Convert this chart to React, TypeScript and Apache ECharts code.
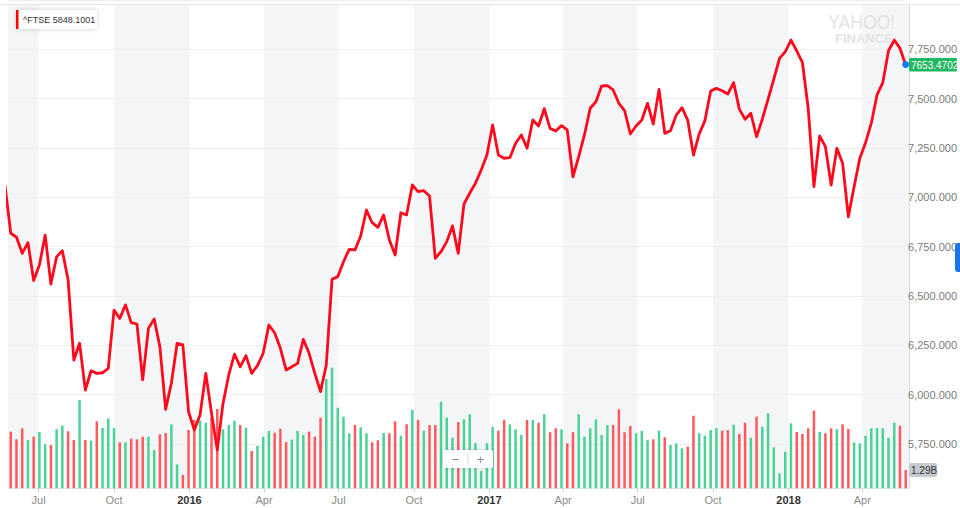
import React, { useEffect, useRef } from "react";
import * as echarts from "echarts";

// Weekly closes of ^FTSE (first point lies just left of the plot and is clipped)
const PRICE = [
  7050, 6809, 6789, 6708, 6762, 6571, 6650, 6800, 6554, 6691,
  6721, 6574, 6172, 6256, 6021, 6118, 6105, 6108, 6130, 6423,
  6381, 6449, 6360, 6353, 6072, 6331, 6378, 6239, 5924, 6055,
  6256, 6248, 5912, 5820, 5896, 6105, 5904, 5720, 5954, 6097,
  6202, 6138, 6194, 6105, 6144, 6206, 6348, 6309, 6231, 6122,
  6138, 6155, 6276, 6206, 6105, 6013, 6147, 6578, 6591, 6666,
  6728, 6725, 6795, 6926, 6862, 6839, 6901, 6775, 6700, 6912,
  6901, 7052, 7018, 7023, 6996, 6683, 6716, 6767, 6846, 6708,
  6956, 7010, 7060, 7127, 7202, 7353, 7202, 7186, 7189, 7261,
  7303, 7236, 7378, 7348, 7435, 7336, 7323, 7350, 7328, 7093,
  7194, 7303, 7437, 7470, 7549, 7551, 7529, 7462, 7425, 7308,
  7348, 7378, 7462, 7358, 7532, 7311, 7324, 7403, 7440, 7378,
  7202, 7308, 7375, 7524, 7537, 7525, 7509, 7566, 7433, 7382,
  7412, 7294, 7382, 7482, 7583, 7688, 7721, 7780, 7726, 7666,
  7437, 7043, 7298, 7244, 7051, 7236, 7161, 6892, 7043, 7186,
  7264, 7362, 7504, 7566, 7726, 7780, 7738, 7653.4702,
];

// Weekly volume in billions, for weeks 1..157
const VOLUME = [
  3.99, 3.45, 4.23, 3.40, 3.64, 3.97, 3.10, 3.05, 4.16, 4.41,
  4.02, 3.40, 6.22, 3.40, 3.36, 4.72, 4.25, 4.91, 4.25, 3.24,
  3.24, 3.50, 3.45, 3.64, 3.64, 2.70, 3.81, 3.90, 4.51, 1.69,
  0.94, 4.11, 4.82, 4.77, 4.62, 5.01, 5.59, 4.16, 4.46, 4.77,
  4.46, 4.27, 2.63, 3.00, 3.64, 4.04, 3.92, 4.20, 3.26, 3.43,
  4.04, 3.76, 3.99, 3.64, 4.98, 7.71, 8.50, 5.68, 5.05, 3.88,
  4.46, 4.30, 3.88, 3.24, 3.38, 3.90, 3.88, 4.72, 3.71, 4.51,
  5.52, 4.82, 4.06, 4.46, 4.46, 6.11, 4.98, 3.57, 4.67, 4.86,
  5.22, 3.20, 1.22, 3.17, 4.34, 4.06, 4.82, 4.51, 4.16, 3.76,
  4.82, 4.82, 4.62, 5.22, 3.95, 4.23, 4.16, 3.17, 3.95, 5.22,
  3.64, 4.23, 4.86, 3.76, 4.46, 4.46, 5.57, 3.95, 4.39, 3.88,
  4.04, 3.40, 3.45, 4.06, 3.60, 3.05, 3.17, 2.82, 2.93, 5.12,
  3.88, 3.71, 4.11, 4.25, 4.06, 4.11, 4.48, 3.83, 4.62, 3.57,
  5.05, 4.34, 5.29, 2.89, 1.06, 2.58, 4.58, 3.97, 3.83, 4.23,
  5.47, 3.97, 3.88, 4.23, 4.16, 4.51, 4.18, 3.24, 3.17, 3.71,
  4.23, 4.25, 4.23, 3.57, 4.62, 4.41, 1.29,
];

const TICK_DATES = [
  Date.UTC(2015, 6, 1), Date.UTC(2015, 9, 1), Date.UTC(2016, 0, 1), Date.UTC(2016, 3, 1),
  Date.UTC(2016, 6, 1), Date.UTC(2016, 9, 1), Date.UTC(2017, 0, 1), Date.UTC(2017, 3, 1),
  Date.UTC(2017, 6, 1), Date.UTC(2017, 9, 1), Date.UTC(2018, 0, 1), Date.UTC(2018, 3, 1),
];
const TICK_LABELS = ["Jul", "Oct", "2016", "Apr", "Jul", "Oct", "2017", "Apr", "Jul", "Oct", "2018", "Apr"];

const START = Date.UTC(2015, 4, 21);
const DAY = 86400000;

const LEGEND_TEXT = "^FTSE 5848.1001";
const LAST_TEXT = "7653.4702";
const LAST_VOL_TEXT = "1.29B";

const RED_LINE = "#ff0a1c";
const GREEN = "#4ad396";
const RED = "#ff5a5f";
const BAND = "#f4f5f6";

export default function App() {
  const ref = useRef<HTMLDivElement>(null);

  useEffect(() => {
    if (!ref.current) return;
    const chart = echarts.init(ref.current, null, { renderer: "svg" });

    const dates = PRICE.map((_, i) => START + i * 7 * DAY);
    const XMIN = START + 3.66 * DAY;
    const XMAX = START + 1103 * DAY;

    const priceData = dates.map((d, i) => [d, PRICE[i]]);
    const volData = VOLUME.map((v, k) => ({
      value: [dates[k + 1], v],
      itemStyle: { color: PRICE[k + 1] >= PRICE[k] ? GREEN : RED },
    }));

    const bandEdges = [XMIN, ...TICK_DATES, XMAX];
    const bands: any[] = [];
    bands.push([{ xAxis: bandEdges[0] }, { xAxis: bandEdges[1] }]);
    for (let i = 2; i + 1 < bandEdges.length; i += 2) {
      bands.push([{ xAxis: bandEdges[i] }, { xAxis: bandEdges[i + 1] }]);
    }

    const font = "'Liberation Sans', Arial, Helvetica, sans-serif";
    const Z = 20;

    const option: any = {
      animation: false,
      textStyle: { fontFamily: font },
      grid: [
        { left: 8, right: 51, top: 4, bottom: 19.7 },
        { left: 8, right: 51, top: -3.75, bottom: 64 },
        { left: 8, right: 51, top: 338.3, bottom: 19.7 },
      ],
      xAxis: [
        {
          gridIndex: 0,
          type: "value",
          min: XMIN,
          max: XMAX,
          axisLine: { show: true, lineStyle: { color: "#e4e4e4", width: 1 } },
          axisTick: { show: true, customValues: TICK_DATES, length: 4, lineStyle: { color: "#d0d0d0" } },
          axisLabel: {
            customValues: TICK_DATES,
            margin: 6,
            fontSize: 11,
            color: "#8a8a8a",
            formatter: (v: number) => {
              const idx = TICK_DATES.indexOf(v);
              const t = idx >= 0 ? TICK_LABELS[idx] : "";
              return /^\d{4}$/.test(t) ? "{y|" + t + "}" : t;
            },
            rich: { y: { fontSize: 11, color: "#333", fontWeight: "bold", fontFamily: font } },
          },
          splitLine: { show: false },
        },
        { gridIndex: 1, type: "value", min: XMIN, max: XMAX, show: false },
        { gridIndex: 2, type: "value", min: XMIN, max: XMAX, show: false },
      ],
      yAxis: [
        {
          gridIndex: 0,
          type: "value",
          position: "right",
          min: 5527.4,
          max: 7961.1,
          axisLine: { show: true, lineStyle: { color: "#dcdcdc" } },
          axisTick: { show: false },
          axisLabel: { show: false },
          splitLine: { show: false },
        },
        {
          gridIndex: 1,
          type: "value",
          position: "right",
          min: 5750,
          max: 8000,
          interval: 250,
          z: 3,
          axisLine: { show: false },
          axisTick: { show: false },
          axisLabel: {
            margin: 4,
            fontSize: 11,
            color: "#7a7a7a",
            showMaxLabel: false,
            formatter: (v: number) =>
              v.toLocaleString("en-US", { minimumFractionDigits: 3, maximumFractionDigits: 3 }),
          },
          splitLine: { show: true, lineStyle: { color: "#eeeeee", width: 1 } },
        },
        { gridIndex: 2, type: "value", min: 0, max: 10.574, show: false },
      ],
      series: [
        {
          type: "line",
          xAxisIndex: 0,
          yAxisIndex: 0,
          data: [],
          silent: true,
          markArea: { silent: true, itemStyle: { color: BAND }, data: bands },
        },
        {
          type: "bar",
          xAxisIndex: 2,
          yAxisIndex: 2,
          data: volData,
          barWidth: 2.5,
          z: 4,
          silent: true,
        },
        {
          type: "line",
          xAxisIndex: 0,
          yAxisIndex: 0,
          data: priceData,
          showSymbol: false,
          symbol: "none",
          clip: true,
          z: 5,
          lineStyle: { color: RED_LINE, width: 2.8, join: "round" },
          silent: true,
        },
      ],
      graphic: [
        {
          type: "line",
          z: Z,
          shape: { x1: 0, y1: 4.5, x2: 960, y2: 4.5 },
          style: { stroke: "#e3e6ea", lineWidth: 1 },
        },
        {
          type: "text",
          z: 2,
          x: 828,
          y: 21,
          scaleX: 0.84,
          style: { text: "YAHOO!", fontSize: 21, fontFamily: font, fill: "#e4e4e4", verticalAlign: "middle" },
        },
        {
          type: "text",
          z: 2,
          x: 835,
          y: 38.5,
          style: { text: "FINANCE", fontSize: 13, fontWeight: "bold", fontFamily: font, fill: "#e4e4e4", verticalAlign: "middle" },
        },
        // legend chip
        {
          type: "rect",
          z: Z,
          shape: { x: 16, y: 10, width: 81, height: 19, r: 2 },
          style: { fill: "#fff", shadowBlur: 4, shadowColor: "rgba(0,0,0,0.18)" },
        },
        { type: "rect", z: Z + 1, shape: { x: 16, y: 10, width: 2.5, height: 19 }, style: { fill: "#ff0000" } },
        {
          type: "text",
          z: Z + 1,
          x: 23,
          y: 19.5,
          style: { text: LEGEND_TEXT, fontSize: 9, fill: "#333", fontFamily: font, verticalAlign: "middle" },
        },
        // last price tag
        { type: "rect", z: Z, shape: { x: 909, y: 58, width: 48, height: 13.5, r: 1 }, style: { fill: "#21b861" } },
        {
          type: "text",
          z: Z + 1,
          x: 911,
          y: 65,
          style: { text: LAST_TEXT, fontSize: 10, fill: "#fff", fontFamily: font, verticalAlign: "middle" },
        },
        { type: "circle", z: Z + 2, shape: { cx: 905.7, cy: 64.5, r: 3.5 }, style: { fill: "#1878f0" } },
        // last volume tag
        { type: "rect", z: Z, shape: { x: 909, y: 463, width: 28, height: 14, r: 2 }, style: { fill: "#c6cad0" } },
        {
          type: "text",
          z: Z + 1,
          x: 911,
          y: 470,
          style: { text: LAST_VOL_TEXT, fontSize: 10, fill: "#333", fontFamily: font, verticalAlign: "middle" },
        },
        {
          type: "rect",
          z: Z,
          shape: { x: 955, y: 243, width: 10, height: 29, r: 3 },
          style: { fill: "#1a74e8" },
        },
        // zoom control
        {
          type: "rect",
          z: Z,
          shape: { x: 443, y: 450, width: 50, height: 18, r: 2 },
          style: { fill: "#fff", shadowBlur: 4, shadowColor: "rgba(0,0,0,0.15)" },
        },
        { type: "line", z: Z + 1, shape: { x1: 468, y1: 453, x2: 468, y2: 465 }, style: { stroke: "#dddddd", lineWidth: 1 } },
        {
          type: "text",
          z: Z + 1,
          x: 455.5,
          y: 459,
          style: { text: "−", fontSize: 13, fill: "#8a8a8a", align: "center", verticalAlign: "middle", fontFamily: font },
        },
        {
          type: "text",
          z: Z + 1,
          x: 480.5,
          y: 459,
          style: { text: "+", fontSize: 13, fill: "#8a8a8a", align: "center", verticalAlign: "middle", fontFamily: font },
        },
      ],
    };

    chart.setOption(option);
    return () => chart.dispose();
  }, []);

  return (
    <div
      ref={ref}
      style={{ position: "fixed", left: 0, top: 0, width: 960, height: 508, background: "#fff" }}
    />
  );
}
